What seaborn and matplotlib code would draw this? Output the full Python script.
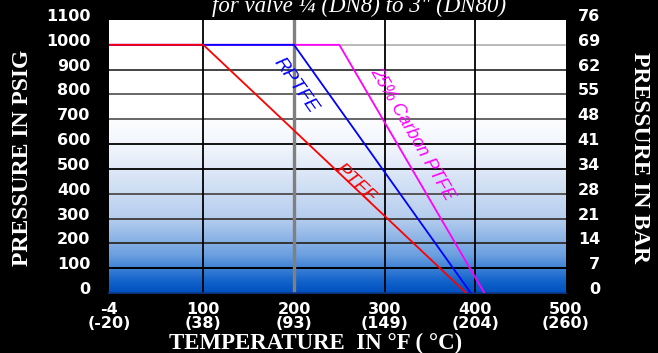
import numpy as np
import pandas as pd
import seaborn as sns
import matplotlib.pyplot as plt
from matplotlib.colors import LinearSegmentedColormap
from matplotlib.transforms import ScaledTranslation

# ------------------- Data -------------------
materials = ['25% Carbon PTFE', 'RPTFE', 'PTFE']   # drawing order (PTFE on top)

ptfe_temp = [-4, 100, 390]
ptfe_psig = [1000, 1000, 0]
rptfe_temp = [-4, 200, 395]
rptfe_psig = [1000, 1000, 0]
carbon_temp = [-4, 250, 410]
carbon_psig = [1000, 1000, 0]

x_ticks = [-4, 100, 200, 300, 400, 500]
x_ticks_c = [-20, 38, 93, 149, 204, 260]
psig_ticks = [0, 100, 200, 300, 400, 500, 600, 700, 800, 900, 1000, 1100]
bar_labels = ['0', '7', '14', '21', '28', '34', '41', '48', '55', '62', '69', '76']

df = pd.concat([
    pd.DataFrame({'temp': carbon_temp, 'psig': carbon_psig, 'material': '25% Carbon PTFE'}),
    pd.DataFrame({'temp': rptfe_temp, 'psig': rptfe_psig, 'material': 'RPTFE'}),
    pd.DataFrame({'temp': ptfe_temp, 'psig': ptfe_psig, 'material': 'PTFE'}),
], ignore_index=True)

colors = {'PTFE': '#ff0000', 'RPTFE': '#0000ff', '25% Carbon PTFE': '#ff00ff'}

# ------------------- Figure -------------------
fig = plt.figure(figsize=(6.58, 3.53), dpi=100, facecolor='black')
ax = fig.add_axes([109 / 658, 1 - 293 / 353, 457 / 658, 273 / 353])
ax.set_facecolor('white')

# background gradient white -> blue
grad_cmap = LinearSegmentedColormap.from_list('bg', [
    (0.0, '#0050c0'), (0.045, '#1565cc'), (0.136, '#6a9fe0'),
    (0.27, '#b5cdee'), (0.52, '#eef3fb'), (0.66, '#ffffff'), (1.0, '#ffffff')])
grad = np.linspace(0, 1, 600).reshape(-1, 1)
ax.imshow(grad, extent=[-4, 500, 0, 1100], origin='lower', aspect='auto',
          cmap=grad_cmap, interpolation='bilinear', zorder=0)

# grid lines
h_colors = ['#000000', '#333333', '#444444', '#555555', '#111111',
            '#111111', '#666666', '#666666', '#444444', '#bbbbbb']
for lvl, c in zip(psig_ticks[1:-1], h_colors):
    ax.axhline(lvl, color=c, lw=1.4, zorder=1)
for t in x_ticks[1:-1]:
    if t == 200:
        ax.axvline(t, color='#808080', lw=2.4, zorder=1)
    else:
        ax.axvline(t, color='black', lw=1.3, zorder=1)

sns.lineplot(data=df, x='temp', y='psig', hue='material', hue_order=materials,
             palette=colors, sort=False, estimator=None, legend=False,
             linewidth=1.3, ax=ax, zorder=3)

ax.set_xlim(-4, 500)
ax.set_ylim(0, 1100)
ax.set_xlabel('')
ax.set_ylabel('')

ax.set_xticks(x_ticks)
ax.set_xticklabels([f'{f}\n({c})' for f, c in zip(x_ticks, x_ticks_c)],
                   linespacing=0.95)
ax.set_yticks(psig_ticks)
ax.set_yticklabels([str(v) for v in psig_ticks])
ax.tick_params(axis='x', length=0, pad=6.5, colors='white', labelsize=11.5)
ax.tick_params(axis='y', length=0, pad=13.5, colors='white', labelsize=11.5)
for lab in ax.get_xticklabels() + ax.get_yticklabels():
    lab.set_fontfamily('DejaVu Sans')
    lab.set_fontweight('bold')

for s in ['left', 'right', 'top']:
    ax.spines[s].set_visible(False)
ax.spines['bottom'].set_color('#0b3a8a')
ax.spines['bottom'].set_linewidth(1.2)

# right axis in bar
ax2 = ax.twinx()
ax2.set_ylim(0, 1100)
ax2.set_yticks(psig_ticks)
ax2.set_yticklabels(bar_labels, ha='right')
ax2.tick_params(axis='y', length=0, pad=24.5, colors='white', labelsize=11.5)
for lab in ax2.get_yticklabels():
    lab.set_fontfamily('DejaVu Sans')
    lab.set_fontweight('bold')
for s in ax2.spines.values():
    s.set_visible(False)

# nudge y labels slightly above their grid lines
shift = ScaledTranslation(0, 5 / 100, fig.dpi_scale_trans)
for lab in ax.get_yticklabels() + ax2.get_yticklabels():
    lab.set_transform(lab.get_transform() + shift)

# line labels
ax.text(202, 838, 'RPTFE', color='#0000ff', fontsize=14, style='italic',
        family='Liberation Sans', rotation=-54.6, rotation_mode='anchor',
        ha='center', va='center', zorder=4)
ax.text(330, 641, '25% Carbon PTFE', color='#ff00ff', fontsize=13, style='italic',
        family='Liberation Sans', rotation=-59.8, rotation_mode='anchor',
        ha='center', va='center', zorder=4)
ax.text(268, 439, 'PTFE', color='#ff0000', fontsize=14, style='italic',
        family='Liberation Sans', rotation=-43.4, rotation_mode='anchor',
        ha='center', va='center', zorder=4)

# titles / axis labels (title is partly cut by the top edge, as in the source)
fig.text(359 / 658, 1 - 12 / 353, 'for valve ¼ (DN8) to 3" (DN80)', color='white',
         fontsize=16.5, style='italic', family='Liberation Serif',
         ha='center', va='baseline')
fig.text(23 / 658, 1 - 158 / 353, 'PRESSURE IN PSIG', color='white', fontsize=17,
         fontweight='bold', family='Liberation Serif', rotation=90,
         ha='center', va='center')
fig.text(640 / 658, 1 - 158 / 353, 'PRESSURE IN BAR', color='white', fontsize=17,
         fontweight='bold', family='Liberation Serif', rotation=-90,
         ha='center', va='center')
fig.text(316 / 658, 1 - 349 / 353, 'TEMPERATURE  IN °F ( °C)', color='white',
         fontsize=16.5, fontweight='bold', family='Liberation Serif',
         ha='center', va='baseline')

fig.savefig('out.png', dpi=100, facecolor='black')
